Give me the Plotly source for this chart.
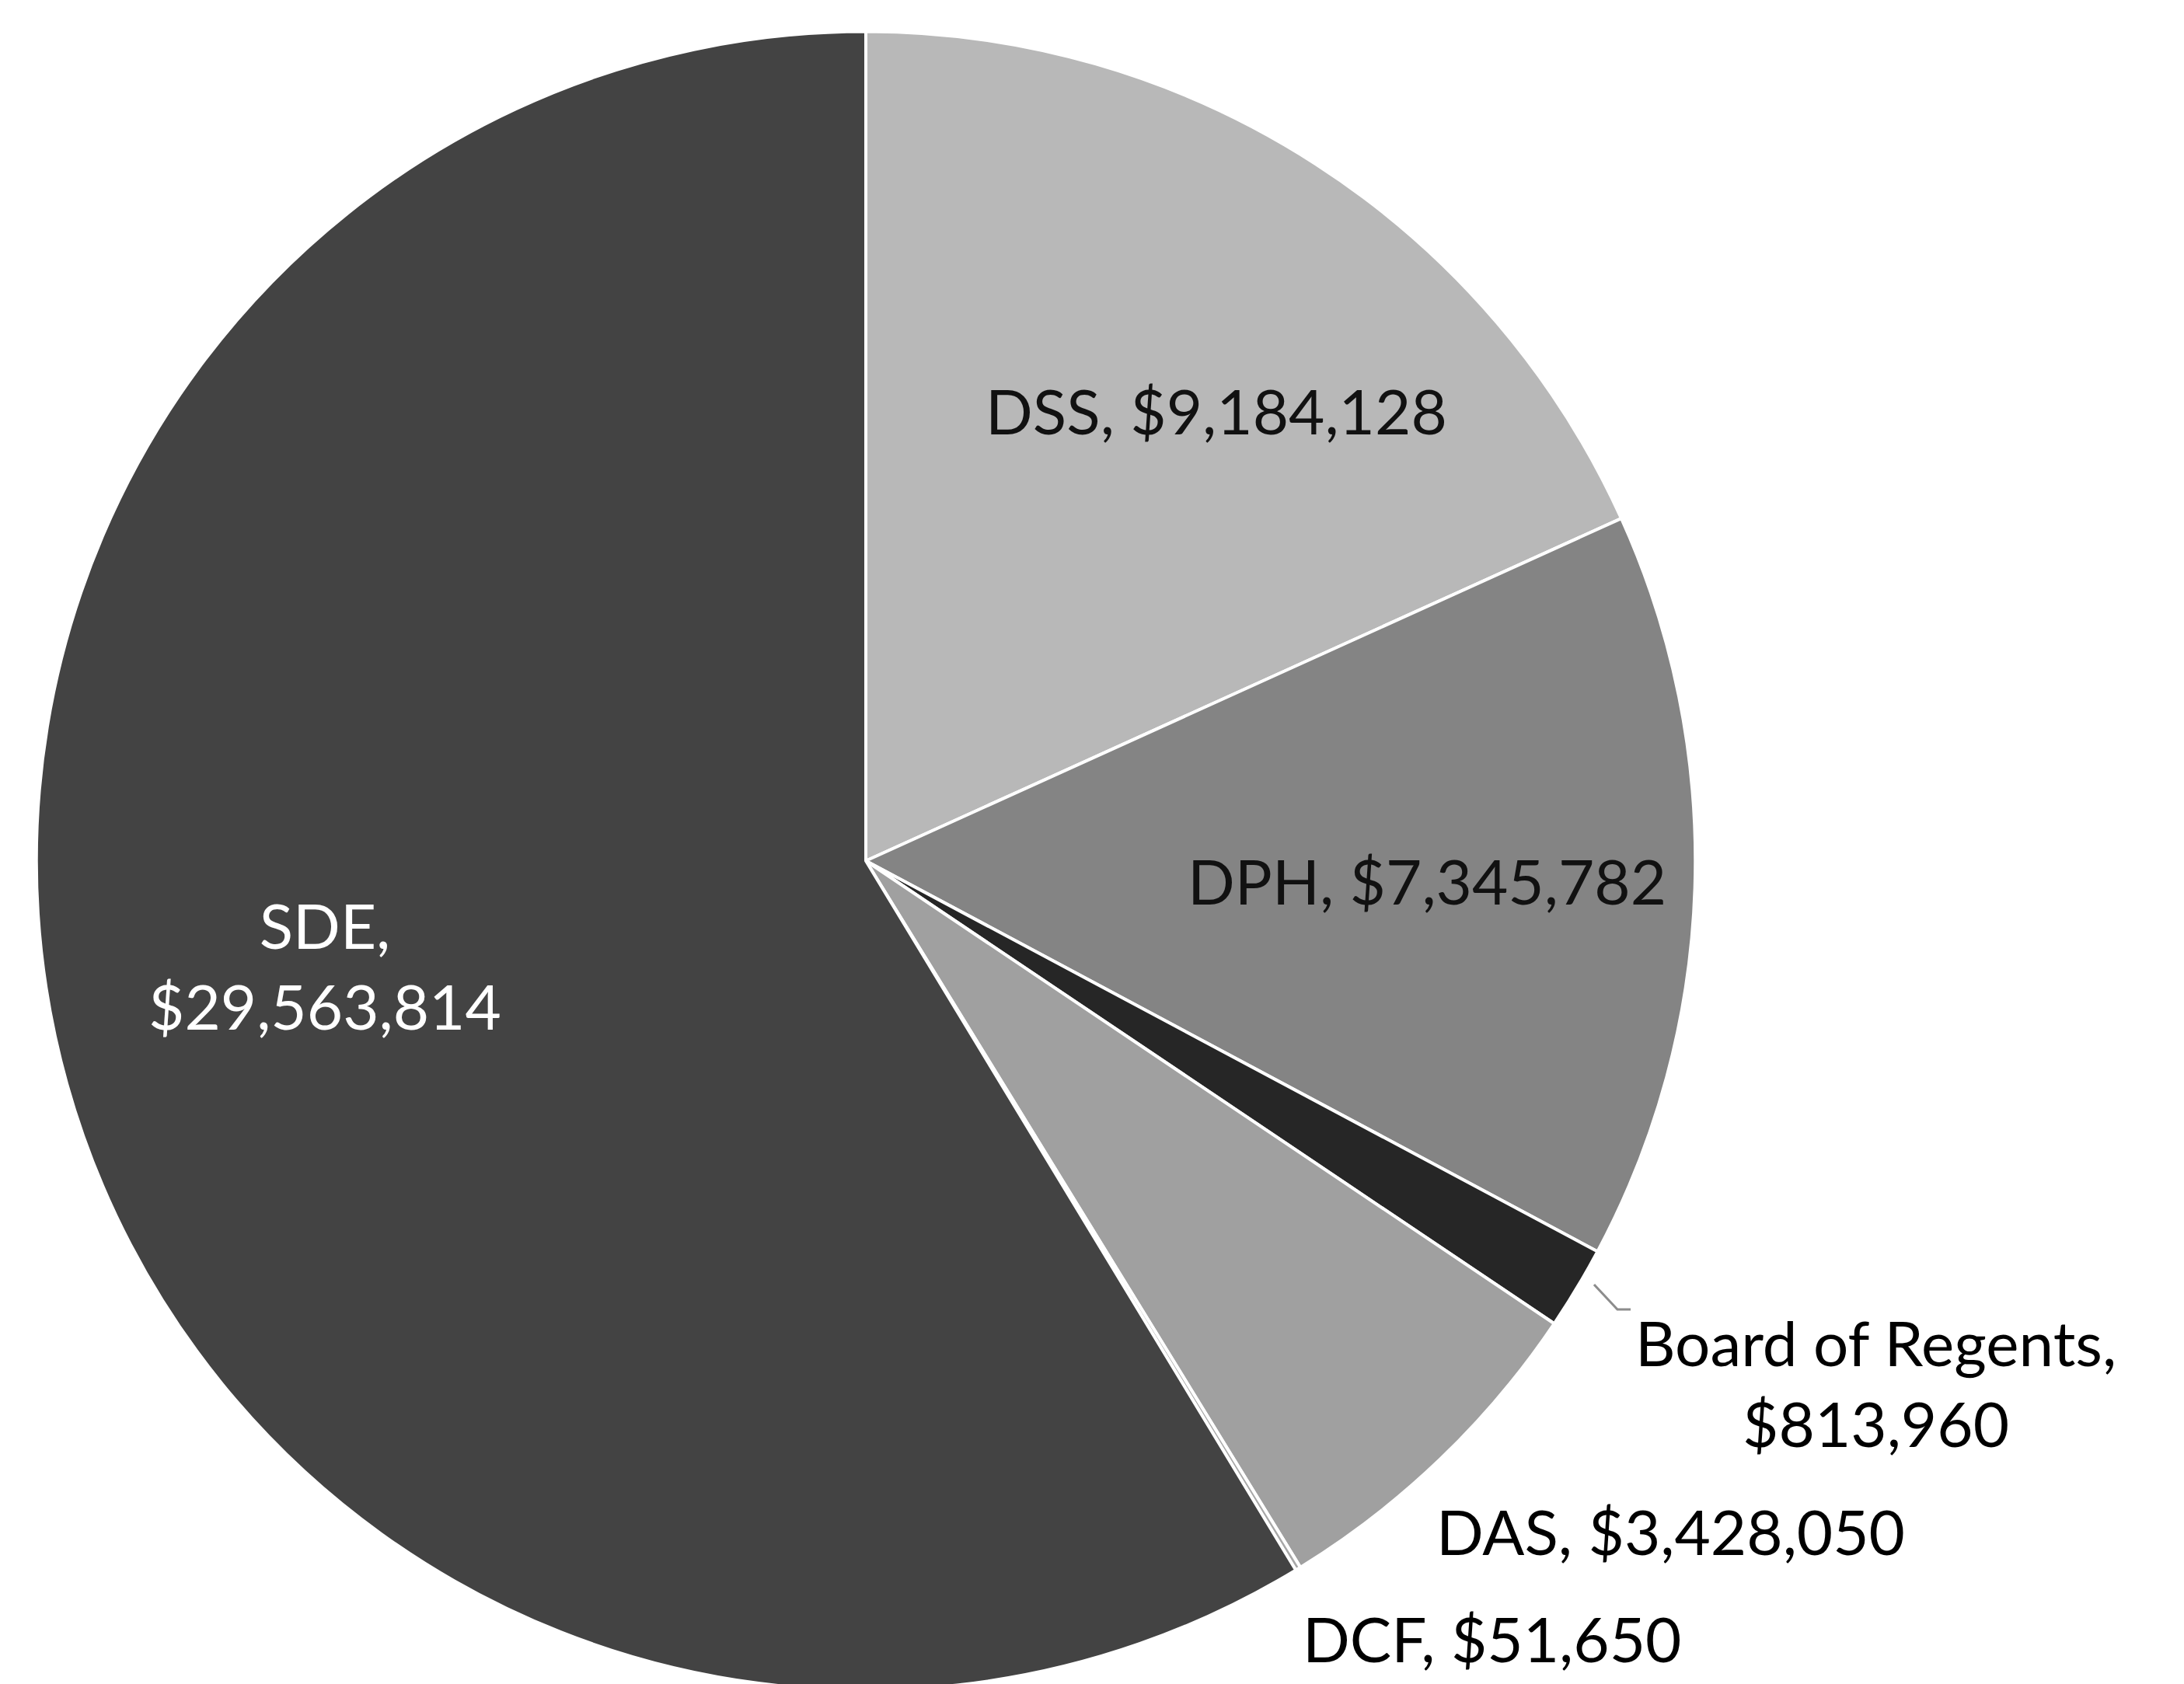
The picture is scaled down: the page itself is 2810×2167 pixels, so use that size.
import plotly.graph_objects as go

# Data
agencies = ["DSS", "DPH", "Board of Regents", "DAS", "DCF", "SDE"]
amounts = [9184128, 7345782, 813960, 3428050, 51650, 29563814]
slice_colors = ["#b8b8b8", "#848484", "#262626", "#a0a0a0", "#a8a8a8", "#434343"]

W, H = 2810, 2167

fig = go.Figure(go.Pie(
    labels=agencies,
    values=amounts,
    sort=False,
    direction="clockwise",
    rotation=0,
    textinfo="none",
    hoverinfo="label+value",
    marker=dict(colors=slice_colors, line=dict(color="#ffffff", width=4)),
    domain=dict(x=[0.0128, 0.7744], y=[0.0, 0.985]),
    showlegend=False,
))

def fmt(v):
    return "${:,}".format(v)

# label layout: (text, x_px, y_px, color)
label_text = {
    "DSS": f"DSS, {fmt(amounts[0])}",
    "DPH": f"DPH, {fmt(amounts[1])}",
    "Board of Regents": f"Board of Regents,<br>{fmt(amounts[2])}",
    "DAS": f"DAS, {fmt(amounts[3])}",
    "DCF": f"DCF, {fmt(amounts[4])}",
    "SDE": f"SDE,<br>{fmt(amounts[5])}",
}
label_pos = {
    "DSS": (1557, 520, "#111111"),
    "DPH": (1828, 1125, "#111111"),
    "Board of Regents": (2405, 1771, "#000000"),
    "DAS": (2141, 1962, "#000000"),
    "DCF": (1911, 2100, "#000000"),
    "SDE": (410, 1234, "#ffffff"),
}

annotations = []
for name in agencies:
    px, py, col = label_pos[name]
    annotations.append(dict(
        text=label_text[name], x=px / W, y=1 - py / H,
        xref="paper", yref="paper", showarrow=False,
        xanchor="center", yanchor="middle", align="center",
        font=dict(family="Lato, Carlito, Liberation Sans, sans-serif", size=80, color=col),
    ))

# leader line for Board of Regents
pts = [(2043, 1645), (2073, 1677), (2090, 1677)]
path = "M " + " L ".join(f"{x / W} {1 - y / H}" for x, y in pts)

fig.update_layout(
    width=W, height=H,
    margin=dict(l=0, r=0, t=0, b=0),
    paper_bgcolor="#ffffff",
    plot_bgcolor="#ffffff",
    annotations=annotations,
    shapes=[dict(type="path", path=path, xref="paper", yref="paper",
                 line=dict(color="#8c8c8c", width=3))],
)

fig.write_html("out.html")
